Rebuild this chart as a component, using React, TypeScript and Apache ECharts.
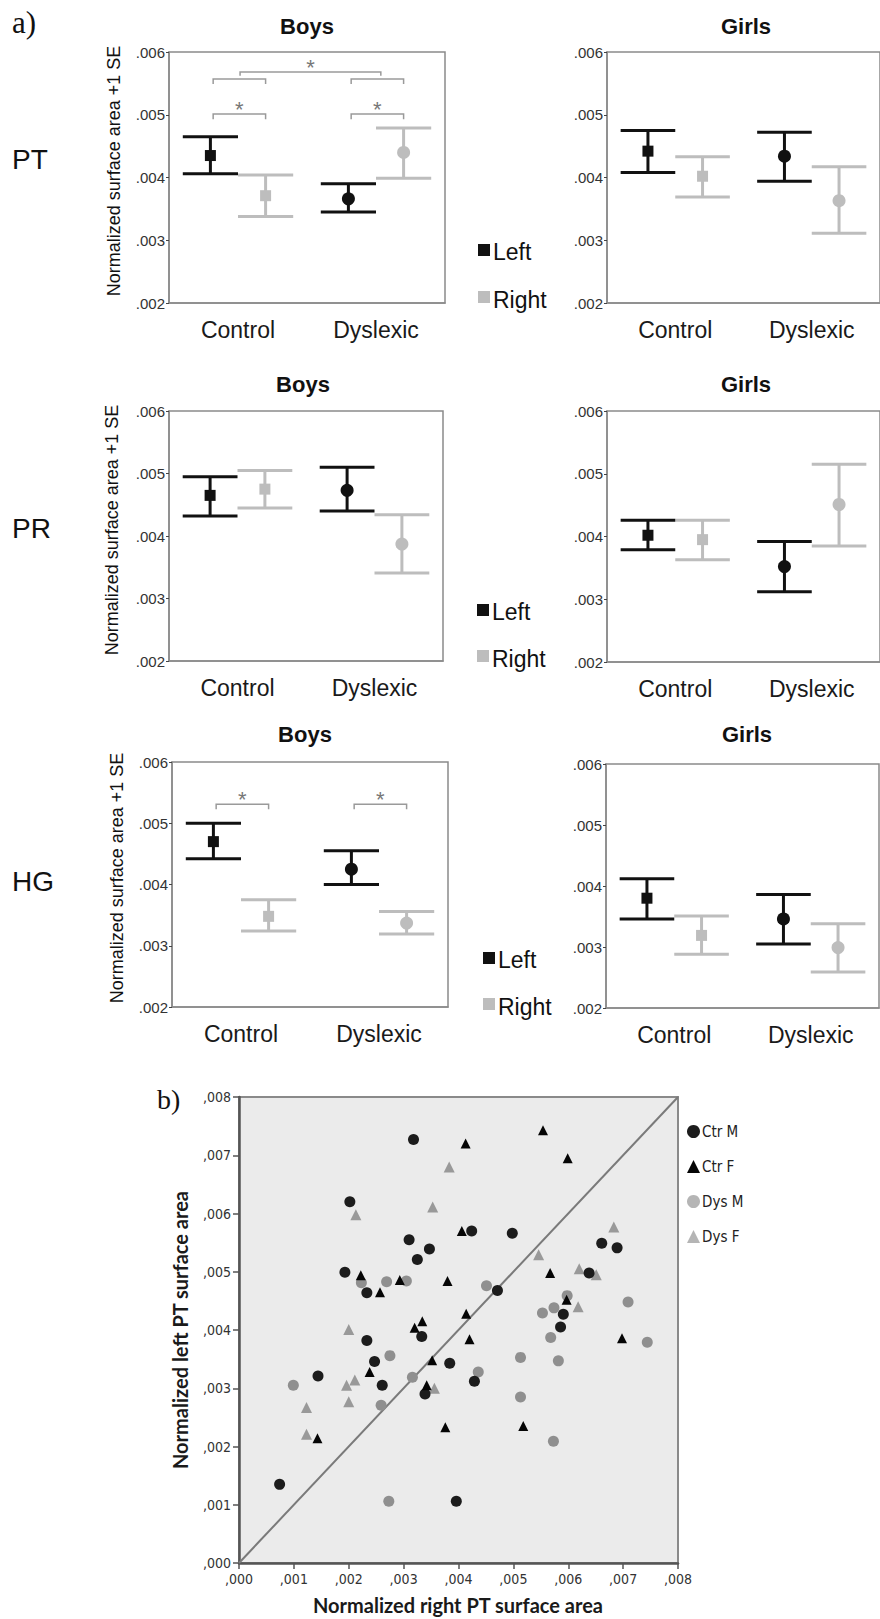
import React, { useEffect, useRef } from "react";
import * as echarts from "echarts";

// ---------- Data ----------
const GROUPS = ["Control", "Dyslexic"];
const BAR_Y_TICKS = [0.002, 0.003, 0.004, 0.005, 0.006];

// [mean, low, high] for Control, Dyslexic
const PT_BOYS_LEFT = [[0.00435, 0.00406, 0.00465], [0.00366, 0.00345, 0.0039]];
const PT_BOYS_RIGHT = [[0.00371, 0.00338, 0.00404], [0.0044, 0.00399, 0.00479]];
const PT_GIRLS_LEFT = [[0.00442, 0.00408, 0.00475], [0.00434, 0.00394, 0.00472]];
const PT_GIRLS_RIGHT = [[0.00402, 0.00369, 0.00433], [0.00363, 0.00311, 0.00417]];
const PR_BOYS_LEFT = [[0.00465, 0.00432, 0.00495], [0.00473, 0.0044, 0.0051]];
const PR_BOYS_RIGHT = [[0.00475, 0.00445, 0.00505], [0.00387, 0.00341, 0.00434]];
const PR_GIRLS_LEFT = [[0.00402, 0.00379, 0.00426], [0.00352, 0.00312, 0.00392]];
const PR_GIRLS_RIGHT = [[0.00395, 0.00363, 0.00426], [0.00451, 0.00385, 0.00515]];
const HG_BOYS_LEFT = [[0.0047, 0.00442, 0.005], [0.00425, 0.004, 0.00455]];
const HG_BOYS_RIGHT = [[0.00348, 0.00324, 0.00375], [0.00337, 0.00319, 0.00356]];
const HG_GIRLS_LEFT = [[0.0038, 0.00346, 0.00412], [0.00346, 0.00305, 0.00386]];
const HG_GIRLS_RIGHT = [[0.00319, 0.00288, 0.00351], [0.00299, 0.00259, 0.00338]];

// significance brackets: [fromGroup, toGroup, level, legEnd, starLevel(0 = none)]
const PT_BOYS_BRACKETS = [
  [0, 0, 0.00501, 0.00493, 0.00517],
  [1, 1, 0.00501, 0.00493, 0.00517],
  [0, 0, 0.00557, 0.00549, 0],
  [1, 1, 0.00557, 0.00549, 0],
  [0, 1, 0.00568, 0.00562, 0.00583],
];
const HG_BOYS_BRACKETS = [
  [0, 0, 0.00531, 0.00523, 0.00547],
  [1, 1, 0.00531, 0.00523, 0.00547],
];

const SCATTER_TICKS = [0, 0.001, 0.002, 0.003, 0.004, 0.005, 0.006, 0.007, 0.008];
const CTR_M = [
  [0.00318, 0.00727], [0.00202, 0.0062], [0.0031, 0.00555], [0.00347, 0.00539], [0.00325, 0.00521],
  [0.00193, 0.00499], [0.00233, 0.00464], [0.00424, 0.0057], [0.00498, 0.00566], [0.00661, 0.00549],
  [0.00689, 0.00541], [0.00638, 0.00498], [0.00471, 0.00468], [0.00591, 0.00427], [0.00586, 0.00405],
  [0.00233, 0.00382], [0.00333, 0.00389], [0.00247, 0.00346], [0.00384, 0.00343], [0.00144, 0.00321],
  [0.00261, 0.00305], [0.00339, 0.0029], [0.00429, 0.00312], [0.00074, 0.00135], [0.00396, 0.00106],
];
const CTR_F = [
  [0.00554, 0.00743], [0.00413, 0.0072], [0.00599, 0.00695], [0.00406, 0.0057], [0.00222, 0.00494],
  [0.00293, 0.00486], [0.00257, 0.00465], [0.0038, 0.00484], [0.00567, 0.00498], [0.00597, 0.00452],
  [0.00414, 0.00428], [0.00334, 0.00415], [0.0032, 0.00404], [0.0042, 0.00384], [0.00352, 0.00348],
  [0.00238, 0.00328], [0.00342, 0.00305], [0.00698, 0.00386], [0.00143, 0.00214], [0.00376, 0.00233],
  [0.00518, 0.00235],
];
const DYS_M = [
  [0.00223, 0.00481], [0.00269, 0.00483], [0.00305, 0.00484], [0.00451, 0.00476], [0.00598, 0.00459],
  [0.00574, 0.00438], [0.00553, 0.00429], [0.00709, 0.00448], [0.00568, 0.00387], [0.00744, 0.00379],
  [0.00275, 0.00356], [0.00316, 0.00319], [0.00436, 0.00328], [0.00513, 0.00353], [0.00582, 0.00347],
  [0.00099, 0.00305], [0.00259, 0.00271], [0.00513, 0.00285], [0.00573, 0.00209], [0.00273, 0.00106],
];
const DYS_F = [
  [0.00383, 0.0068], [0.00353, 0.00611], [0.00213, 0.00598], [0.00683, 0.00577], [0.00546, 0.00529],
  [0.0062, 0.00505], [0.00651, 0.00495], [0.00618, 0.0044], [0.002, 0.00401], [0.00211, 0.00314],
  [0.00196, 0.00305], [0.00356, 0.003], [0.00123, 0.00267], [0.002, 0.00277], [0.00123, 0.00221],
];
const DIAGONAL = [[0, 0], [0.008, 0.008]];

// ---------- Styling ----------
const SANS = "'Liberation Sans', Arial, sans-serif";
const NARROW = "'Liberation Sans Narrow', 'DejaVu Sans Condensed', 'Liberation Sans', sans-serif";
const SERIF = "'Liberation Serif', 'Times New Roman', serif";
const BLACK = "#111111";
const GREY = "#bdbdbd";
const FRAME = "#8a8a8a";

const PANELS = [
  { grid: { left: 169, top: 52, width: 276, height: 251 }, L: PT_BOYS_LEFT, R: PT_BOYS_RIGHT, B: PT_BOYS_BRACKETS },
  { grid: { left: 607, top: 52, width: 273, height: 251 }, L: PT_GIRLS_LEFT, R: PT_GIRLS_RIGHT, B: null },
  { grid: { left: 169, top: 411, width: 274, height: 250 }, L: PR_BOYS_LEFT, R: PR_BOYS_RIGHT, B: null },
  { grid: { left: 607, top: 411, width: 273, height: 251 }, L: PR_GIRLS_LEFT, R: PR_GIRLS_RIGHT, B: null },
  { grid: { left: 172, top: 762, width: 276, height: 245 }, L: HG_BOYS_LEFT, R: HG_BOYS_RIGHT, B: HG_BOYS_BRACKETS },
  { grid: { left: 606, top: 764, width: 273, height: 244 }, L: HG_GIRLS_LEFT, R: HG_GIRLS_RIGHT, B: null },
];

function errorBarRenderer(side: number, color: string) {
  return (params: any, api: any) => {
    const cat = api.value(0);
    const mean = api.value(1);
    const lo = api.value(2);
    const hi = api.value(3);
    const band = api.size([1, 0])[0];
    const c = api.coord([cat, mean]);
    const x = c[0] + side * 0.2 * band;
    const yHi = api.coord([cat, hi])[1];
    const yLo = api.coord([cat, lo])[1];
    const hw = 0.2 * band;
    const st = { stroke: color, lineWidth: 3 };
    const children: any[] = [
      { type: "line", shape: { x1: x, y1: yHi, x2: x, y2: yLo }, style: st },
      { type: "line", shape: { x1: x - hw, y1: yHi, x2: x + hw, y2: yHi }, style: st },
      { type: "line", shape: { x1: x - hw, y1: yLo, x2: x + hw, y2: yLo }, style: st },
    ];
    if (cat === 0) {
      children.push({ type: "rect", shape: { x: x - 5.5, y: c[1] - 5.5, width: 11, height: 11 }, style: { fill: color } });
    } else {
      children.push({ type: "circle", shape: { cx: x, cy: c[1], r: 6.5 }, style: { fill: color } });
    }
    return { type: "group", children };
  };
}

function bracketRenderer(params: any, api: any) {
  const c0 = api.value(0);
  const c1 = api.value(1);
  const y = api.value(2);
  const yl = api.value(3);
  const ys = api.value(4);
  const band = api.size([1, 0])[0];
  const p0 = api.coord([c0, y]);
  const p1 = api.coord([c1, y]);
  let x0: number, x1: number;
  if (c0 === c1) {
    x0 = p0[0] - 0.18 * band;
    x1 = p0[0] + 0.2 * band;
  } else {
    x0 = p0[0] + 0.015 * band;
    x1 = p1[0] + 0.035 * band;
  }
  const yy = p0[1];
  const yL = api.coord([c0, yl])[1];
  const children: any[] = [
    {
      type: "polyline",
      shape: { points: [[x0, yL], [x0, yy], [x1, yy], [x1, yL]] },
      style: { stroke: "#9a9a9a", lineWidth: 1.5, fill: "none" },
    },
  ];
  if (ys > 0) {
    const sy = api.coord([c0, ys])[1];
    children.push({
      type: "text",
      x: (x0 + x1) / 2,
      y: sy + 5,
      style: { text: "*", fill: "#777", fontSize: 22, fontFamily: SANS, align: "center", verticalAlign: "middle" },
    });
  }
  return { type: "group", children };
}

function buildOption() {
  const grids: any[] = [];
  const xAxes: any[] = [];
  const yAxes: any[] = [];
  const series: any[] = [];

  PANELS.forEach((p, i) => {
    grids.push({ ...p.grid, show: true, borderColor: FRAME, borderWidth: 1.5, backgroundColor: "transparent" });
    xAxes.push({
      type: "category",
      gridIndex: i,
      data: GROUPS,
      axisLine: { lineStyle: { color: FRAME, width: 1.5 } },
      axisTick: { alignWithLabel: true, length: 3, lineStyle: { color: "#444" } },
      axisLabel: { fontSize: 23, fontFamily: SANS, color: "#1a1a1a", margin: 15 },
      splitLine: { show: false },
    });
    yAxes.push({
      type: "value",
      gridIndex: i,
      min: BAR_Y_TICKS[0],
      max: BAR_Y_TICKS[BAR_Y_TICKS.length - 1],
      interval: 0.001,
      axisLine: { show: true, lineStyle: { color: FRAME, width: 1.5 } },
      axisTick: { show: true, length: 3, lineStyle: { color: "#444" } },
      axisLabel: {
        fontSize: 15,
        fontFamily: SANS,
        color: "#333",
        margin: 4,
        formatter: (v: number) => "." + v.toFixed(3).slice(2),
      },
      splitLine: { show: false },
    });
    series.push({
      type: "custom",
      name: "Left",
      xAxisIndex: i,
      yAxisIndex: i,
      renderItem: errorBarRenderer(-1, BLACK),
      data: p.L.map((d, k) => [k, d[0], d[1], d[2]]),
      encode: { x: 0, y: 1 },
      z: 3,
    });
    series.push({
      type: "custom",
      name: "Right",
      xAxisIndex: i,
      yAxisIndex: i,
      renderItem: errorBarRenderer(1, GREY),
      data: p.R.map((d, k) => [k, d[0], d[1], d[2]]),
      encode: { x: 0, y: 1 },
      z: 2,
    });
    if (p.B) {
      series.push({
        type: "custom",
        name: "brackets",
        xAxisIndex: i,
        yAxisIndex: i,
        renderItem: bracketRenderer,
        data: p.B,
        encode: { x: 0, y: 2 },
        z: 4,
      });
    }
  });

  // scatter panel
  const si = PANELS.length;
  grids.push({ left: 239, top: 1097, width: 439, height: 466, show: true, backgroundColor: "#ebebeb", borderColor: FRAME, borderWidth: 2 });
  const sAxisCommon = {
    type: "value",
    gridIndex: si,
    min: SCATTER_TICKS[0],
    max: SCATTER_TICKS[SCATTER_TICKS.length - 1],
    interval: 0.001,
    axisLine: { show: true, onZero: false, lineStyle: { color: "#555", width: 2.5 } },
    axisTick: { show: true, length: 6, lineStyle: { color: "#555", width: 1.5 } },
    splitLine: { show: false },
    axisLabel: {
      fontSize: 14,
      fontFamily: NARROW,
      color: "#333",
      formatter: (v: number) => "," + v.toFixed(3).slice(2),
    },
  };
  xAxes.push({ ...sAxisCommon, axisLabel: { ...sAxisCommon.axisLabel, margin: 9 } });
  yAxes.push({ ...sAxisCommon, axisLabel: { ...sAxisCommon.axisLabel, margin: 8 } });

  series.push({
    type: "line",
    name: "diag",
    xAxisIndex: si,
    yAxisIndex: si,
    data: DIAGONAL,
    symbol: "none",
    lineStyle: { color: "#7a7a7a", width: 2 },
    silent: true,
    z: 1,
  });
  const sc = (name: string, data: number[][], symbol: string, size: number, color: string) => ({
    type: "scatter",
    name,
    xAxisIndex: si,
    yAxisIndex: si,
    data,
    symbol,
    symbolSize: size,
    itemStyle: { color, opacity: 1 },
    z: 3,
  });
  series.push(sc("Dys M", DYS_M, "circle", 11, "#8f8f8f"));
  series.push(sc("Dys F", DYS_F, "triangle", 11, "#999999"));
  series.push(sc("Ctr M", CTR_M, "circle", 11, "#1c1c1c"));
  series.push(sc("Ctr F", CTR_F, "triangle", 10, "#050505"));

  const txt = (text: string, x: number, y: number, o: any = {}) => ({
    type: "text",
    x,
    y,
    rotation: o.rotation || 0,
    style: {
      text,
      fill: o.fill || "#111",
      fontSize: o.fontSize || 20,
      fontWeight: o.fontWeight || "normal",
      fontFamily: o.fontFamily || SANS,
      align: o.align || "center",
      verticalAlign: "middle",
    },
  });

  const graphics: any[] = [
    txt("a)", 12, 22, { fontFamily: SERIF, fontSize: 31, align: "left" }),
    txt("b)", 157, 1099, { fontFamily: SERIF, fontSize: 28, align: "left" }),
    txt("PT", 12, 159, { fontSize: 28, align: "left" }),
    txt("PR", 12, 528, { fontSize: 28, align: "left" }),
    txt("HG", 12, 881, { fontSize: 28, align: "left" }),
    txt("Boys", 307, 26, { fontSize: 22, fontWeight: "bold" }),
    txt("Girls", 746, 26, { fontSize: 22, fontWeight: "bold" }),
    txt("Boys", 303, 384, { fontSize: 22, fontWeight: "bold" }),
    txt("Girls", 746, 384, { fontSize: 22, fontWeight: "bold" }),
    txt("Boys", 305, 734, { fontSize: 22, fontWeight: "bold" }),
    txt("Girls", 747, 734, { fontSize: 22, fontWeight: "bold" }),
    txt("Normalized surface area +1 SE", 114, 171, { fontSize: 18, rotation: Math.PI / 2 }),
    txt("Normalized surface area +1 SE", 112, 530, { fontSize: 18, rotation: Math.PI / 2 }),
    txt("Normalized surface area +1 SE", 117, 878, { fontSize: 18, rotation: Math.PI / 2 }),
    txt("Normalized right PT surface area", 458, 1605, { fontSize: 20, fontWeight: "bold", fontFamily: "Lato, 'Open Sans', sans-serif", fill: "#1a1a1a" }),
    txt("Normalized left PT surface area", 180, 1330, { fontSize: 20, fontWeight: "bold", fontFamily: "Lato, 'Open Sans', sans-serif", fill: "#1a1a1a", rotation: Math.PI / 2 }),
  ];
  const legendPos = [
    { x: 484, yL: 250, yR: 297 },
    { x: 483, yL: 610, yR: 656 },
    { x: 489, yL: 958, yR: 1004 },
  ];
  legendPos.forEach((l) => {
    graphics.push({ type: "rect", shape: { x: l.x - 6, y: l.yL - 6, width: 12, height: 12 }, style: { fill: BLACK } });
    graphics.push({ type: "rect", shape: { x: l.x - 6, y: l.yR - 6, width: 12, height: 12 }, style: { fill: GREY } });
    graphics.push(txt("Left", l.x + 9, l.yL + 2, { fontSize: 23, align: "left" }));
    graphics.push(txt("Right", l.x + 9, l.yR + 3, { fontSize: 23, align: "left" }));
  });

  return {
    animation: false,
    backgroundColor: "#ffffff",
    grid: grids,
    xAxis: xAxes,
    yAxis: yAxes,
    series,
    legend: {
      orient: "vertical",
      left: 687,
      top: 1124,
      itemWidth: 13,
      itemHeight: 13,
      itemGap: 20,
      padding: 0,
      data: [
        { name: "Ctr M" },
        { name: "Ctr F" },
        { name: "Dys M", itemStyle: { color: "#b5b5b5" } },
        { name: "Dys F", itemStyle: { color: "#b5b5b5" } },
      ],
      textStyle: { fontSize: 15, fontFamily: NARROW, color: "#222", padding: [0, 0, 0, -3] },
    },
    graphic: graphics,
  };
}

export default function App() {
  const ref = useRef<HTMLDivElement>(null);
  useEffect(() => {
    if (!ref.current) return;
    const chart = echarts.init(ref.current, undefined, { renderer: "svg" });
    chart.setOption(buildOption() as any);
    return () => chart.dispose();
  }, []);
  return <div ref={ref} style={{ position: "absolute", left: 0, top: 0, width: 880, height: 1619 }} />;
}
